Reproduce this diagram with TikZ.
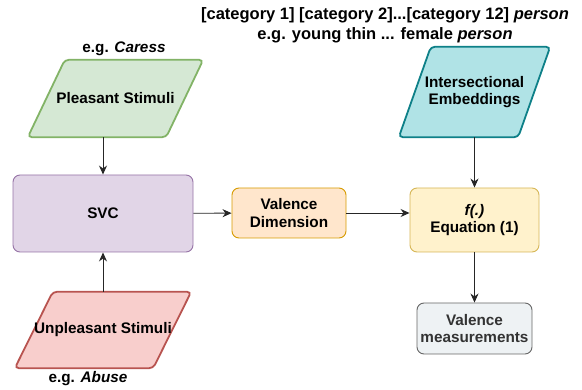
\documentclass[tikz,border=0pt]{standalone}
\usepackage{fontspec}
\setmainfont{Liberation Sans}
\usetikzlibrary{arrows.meta,backgrounds}

\definecolor{greenfill}{HTML}{D5E8D4}
\definecolor{greenline}{HTML}{82B366}
\definecolor{purplefill}{HTML}{E1D5E7}
\definecolor{purpleline}{HTML}{9673A6}
\definecolor{redfill}{HTML}{F8CECC}
\definecolor{redline}{HTML}{B85450}
\definecolor{orangefill}{HTML}{FFE6CC}
\definecolor{orangeline}{HTML}{D79B00}
\definecolor{yellowfill}{HTML}{FFF2CC}
\definecolor{yellowline}{HTML}{D6B656}
\definecolor{cyanfill}{HTML}{B0E3E6}
\definecolor{cyanline}{HTML}{0E8088}
\definecolor{grayfill}{HTML}{EEF2F4}
\definecolor{grayline}{HTML}{666666}
\definecolor{graytext}{HTML}{333333}

\tikzset{
	box/.style={draw, rectangle, rounded corners=7pt, line width=0.9pt, align=center, font=\fontsize{15.3}{17.5}\selectfont\bfseries},
	paratext/.style={rectangle, align=center, inner sep=0pt, font=\fontsize{15.3}{17.5}\selectfont\bfseries},
	paraline/.style={rounded corners=4pt, line width=1.8pt},
	note/.style={align=center, inner sep=0pt, font=\fontsize{15.3}{20}\selectfont\bfseries},
	arr/.style={-{Stealth[length=9pt,width=8pt]}, line width=0.9pt, black!85}
}

\begin{document}
\begin{tikzpicture}[x=1pt, y=-1pt]
				\useasboundingbox (0,0) rectangle (582,390);
				\node[paratext, minimum width=138pt, minimum height=77pt, label={[note, xshift=8.5pt, yshift=4pt]above:{e.g. \textit{Caress}}}] (pleasant)at(115.5, 98.5) {Pleasant Stimuli};
				\node[box, fill=purplefill, draw=purpleline, minimum width=180pt, minimum height=77pt] (svc)at(103, 213.5) {SVC};
				\node[paratext, minimum width=138pt, minimum height=76pt, label={[note, xshift=-15pt, yshift=-3pt]below:{e.g. \textit{Abuse}}}] (unpleasant)at(103, 330) {Unpleasant Stimuli};
				\node[box, fill=orangefill, draw=orangeline, minimum width=114pt, minimum height=50pt] (valence)at(289, 213) {Valence\\Dimension};
				\node[box, fill=yellowfill, draw=yellowline, minimum width=129pt, minimum height=64pt] (func)at(474.5, 220) {\textit{f(.)}\\Equation (1)};
				\node[paratext, minimum width=119pt, minimum height=90pt] (embed)at(474.5, 92) {Intersectional\\Embeddings};
				\node[box, fill=grayfill, draw=grayline, text=graytext, minimum width=115pt, minimum height=51pt] (measure)at(474.5, 328.5) {Valence\\measurements};
				\node[note, font=\fontsize{16.5}{20}\selectfont\bfseries] (categories)at(385, 25) {[category 1] [category 2]...[category 12] \textit{person}\\e.g. young thin ... female \textit{person}};
				% slanted input shapes behind their texts
				\begin{scope}[on background layer]
					\draw[paraline, fill=greenfill, draw=greenline] ([xshift=-18.5pt]pleasant.south west) -- ([xshift=18.5pt]pleasant.north west) -- ([xshift=18.5pt]pleasant.north east) -- ([xshift=-18.5pt]pleasant.south east) -- cycle;
					\draw[paraline, fill=redfill, draw=redline] ([xshift=-19pt]unpleasant.south west) -- ([xshift=19pt]unpleasant.north west) -- ([xshift=19pt]unpleasant.north east) -- ([xshift=-19pt]unpleasant.south east) -- cycle;
					\draw[paraline, fill=cyanfill, draw=cyanline] ([xshift=-16pt]embed.south west) -- ([xshift=16pt]embed.north west) -- ([xshift=16pt]embed.north east) -- ([xshift=-16pt]embed.south east) -- cycle;
				\end{scope}
				\draw[arr] (svc.north |- pleasant.south) -- (svc.north);
				\draw[arr] (svc.south |- unpleasant.north) -- (svc.south);
				\draw[arr] (svc) -- (valence);
				\draw[arr] (valence.east) -- (valence.east -| func.west);
				\draw[arr] (func.north |- embed.south) -- (func.north);
				\draw[arr] (func) -- (measure);
			\end{tikzpicture}
\end{document}
